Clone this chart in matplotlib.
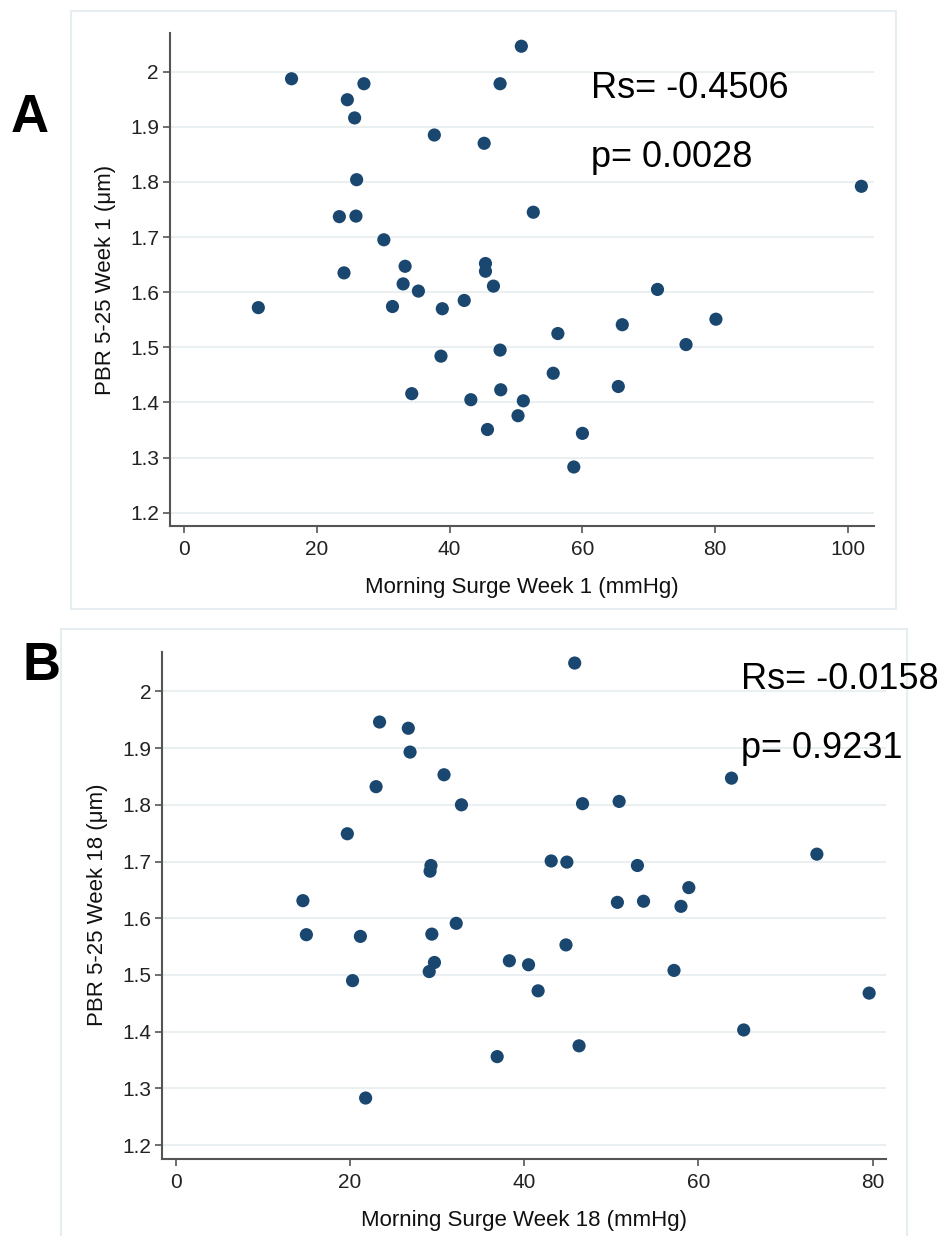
import matplotlib
matplotlib.use("Agg")
import matplotlib.pyplot as plt
from matplotlib.patches import Rectangle

plt.rcParams['font.family'] = ['Liberation Sans', 'DejaVu Sans']

# panel A: week 1
surge_w1 = [11.2, 16.2, 23.4, 24.1, 24.6, 25.7, 25.9, 26.0, 27.1, 30.1,
            31.4, 33.0, 33.3, 34.3, 35.3, 37.7, 38.7, 38.9, 42.2, 43.2,
            45.2, 45.4, 45.4, 45.7, 46.6, 47.6, 47.6, 47.7, 50.3, 50.8,
            51.1, 52.6, 55.6, 56.3, 58.7, 60.0, 65.4, 66.0, 71.3, 75.6,
            80.1, 102.0]
pbr_w1 = [1.572, 1.987, 1.737, 1.635, 1.949, 1.916, 1.738, 1.804, 1.978, 1.695,
          1.574, 1.615, 1.647, 1.416, 1.602, 1.885, 1.484, 1.570, 1.585, 1.405,
          1.870, 1.652, 1.638, 1.351, 1.611, 1.978, 1.495, 1.423, 1.376, 2.046,
          1.403, 1.745, 1.453, 1.525, 1.283, 1.344, 1.429, 1.541, 1.605, 1.505,
          1.551, 1.792]

# panel B: week 18
surge_w18 = [14.6, 15.0, 19.7, 20.3, 21.2, 21.8, 23.0, 23.4, 26.7, 26.9,
             29.1, 29.2, 29.3, 29.4, 29.7, 30.8, 32.2, 32.8, 36.9, 38.3,
             40.5, 41.6, 43.1, 44.8, 44.9, 45.8, 46.3, 46.7, 50.7, 50.9,
             53.0, 53.7, 57.2, 58.0, 58.9, 63.8, 65.2, 73.6, 79.6]
pbr_w18 = [1.631, 1.571, 1.749, 1.490, 1.568, 1.283, 1.832, 1.946, 1.935, 1.893,
           1.506, 1.683, 1.693, 1.572, 1.522, 1.853, 1.591, 1.800, 1.356, 1.525,
           1.518, 1.472, 1.701, 1.553, 1.699, 2.050, 1.375, 1.802, 1.628, 1.806,
           1.693, 1.630, 1.508, 1.621, 1.654, 1.847, 1.403, 1.713, 1.468]

yticks = [1.2, 1.3, 1.4, 1.5, 1.6, 1.7, 1.8, 1.9, 2.0]
ytick_labels = ['1.2', '1.3', '1.4', '1.5', '1.6', '1.7', '1.8', '1.9', '2']

W, H = 947, 1236
fig = plt.figure(figsize=(W / 100, H / 100), dpi=100)

dot_color = '#1a476f'
grid_color = '#eaf0f2'
axis_color = '#555555'


def px_box(x0, y0, x1, y1):
    # pixel box (top-left origin) -> figure fraction [l, b, w, h]
    return [x0 / W, 1 - y1 / H, (x1 - x0) / W, (y1 - y0) / H]


def panel(rect, x, y, xlim, xticks, xlabel, ylabel, rs, p, txt_pos):
    ax = fig.add_axes(rect)
    ax.patch.set_visible(False)
    ax.scatter(x, y, s=90, color=dot_color, edgecolors='none', zorder=3)
    ax.set_xlim(xlim)
    ax.set_ylim(1.176, 2.07)
    ax.set_xticks(xticks)
    ax.set_xticklabels([str(t) for t in xticks])
    ax.set_yticks(yticks)
    ax.set_yticklabels(ytick_labels)
    ax.grid(axis='y', color=grid_color, linewidth=1.5)
    ax.set_axisbelow(True)
    for s in ['top', 'right']:
        ax.spines[s].set_visible(False)
    for s in ['left', 'bottom']:
        ax.spines[s].set_color(axis_color)
        ax.spines[s].set_linewidth(1.5)
    ax.tick_params(axis='both', colors=axis_color, labelcolor='#222222',
                   labelsize=15, length=5, width=1.2, pad=5)
    ax.tick_params(axis='y', pad=3)
    ax.set_xlabel(xlabel, fontsize=16, color='#111111', labelpad=13)
    ax.set_ylabel(ylabel, fontsize=16, color='#111111', labelpad=10)
    tx, ty1, ty2 = txt_pos
    ax.text(tx, ty1, rs, transform=ax.transAxes, fontsize=26,
            va='center', ha='left', clip_on=False, zorder=5)
    ax.text(tx, ty2, p, transform=ax.transAxes, fontsize=26,
            va='center', ha='left', clip_on=False, zorder=5)
    return ax


# outer light frames of each panel (behind the axes)
for (x0, y0, x1, y1) in [(71, 11, 896, 609), (61, 629, 907, 1240)]:
    l, b, w, h = px_box(x0, y0, x1, y1)
    fig.patches.append(Rectangle((l, b), w, h, transform=fig.transFigure,
                                 fill=False, edgecolor='#e6eef1',
                                 linewidth=1.5, zorder=-1))

panel(px_box(170, 33, 874, 526), surge_w1, pbr_w1, (-2.1, 103.9),
      [0, 20, 40, 60, 80, 100], 'Morning Surge Week 1 (mmHg)',
      'PBR 5-25 Week 1 (\u03bcm)', 'Rs= -0.4506', 'p= 0.0028',
      (0.598, 0.888, 0.748))

panel(px_box(162.3, 651.7, 885.7, 1158.7), surge_w18, pbr_w18, (-1.54, 81.5),
      [0, 20, 40, 60, 80], 'Morning Surge Week 18 (mmHg)',
      'PBR 5-25 Week 18 (\u03bcm)', 'Rs= -0.0158', 'p= 0.9231',
      (0.7996, 0.946, 0.810))

fig.text(29.5 / W, 1 - 118 / H, 'A', fontsize=38, fontweight='bold',
         ha='center', va='center')
fig.text(41.8 / W, 1 - 666 / H, 'B', fontsize=38, fontweight='bold',
         ha='center', va='center')

fig.savefig('out.png', dpi=100)
